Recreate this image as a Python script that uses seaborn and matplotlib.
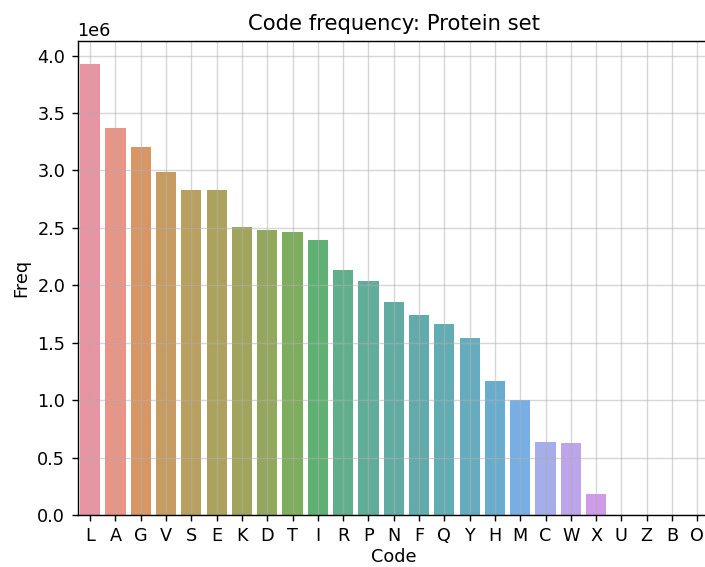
import matplotlib
matplotlib.use('Agg')
import matplotlib.pyplot as plt
import seaborn as sns
import pandas as pd

# Amino acid code counts
codes = ['L', 'A', 'G', 'V', 'S', 'E', 'K', 'D', 'T', 'I', 'R', 'P', 'N',
         'F', 'Q', 'Y', 'H', 'M', 'C', 'W', 'X', 'U', 'Z', 'B', 'O']
freq = [3.93e6, 3.37e6, 3.20e6, 2.99e6, 2.83e6, 2.83e6, 2.51e6, 2.48e6,
        2.46e6, 2.39e6, 2.13e6, 2.04e6, 1.85e6, 1.74e6, 1.66e6, 1.54e6,
        1.17e6, 1.00e6, 0.635e6, 0.625e6, 0.18e6, 30, 20, 10, 5]

df = pd.DataFrame({'Code': codes, 'Freq': freq})

fig = plt.figure(figsize=(705 / 127, 567 / 127), dpi=127)
ax = fig.add_axes([0.110, 0.0917, 0.897, 0.836])

sns.barplot(data=df, x='Code', y='Freq', hue='Code', palette='husl',
            alpha=0.85, legend=False, ax=ax)
ax.grid(True, alpha=0.5)
ax.set_title('Code frequency: Protein set')
ax.set_xlabel('Code', labelpad=1.5)

fig.savefig('out.png', dpi=127)
